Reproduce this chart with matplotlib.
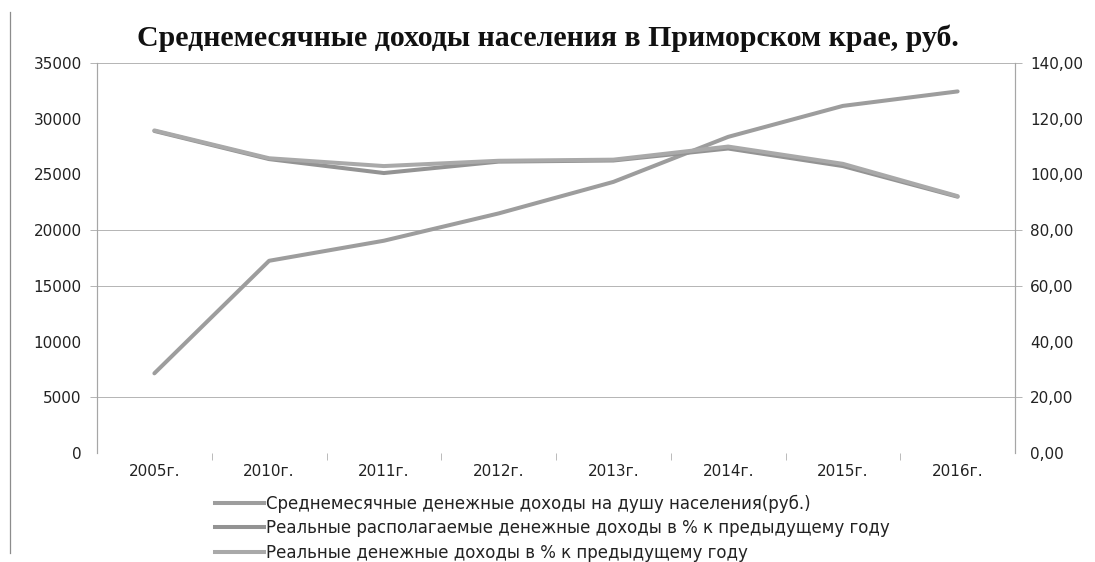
import matplotlib.pyplot as plt
from matplotlib.lines import Line2D

# --- data -------------------------------------------------------------
years = ["2005г.", "2010г.", "2011г.", "2012г.", "2013г.", "2014г.", "2015г.", "2016г."]
income = [7150, 17250, 19050, 21500, 24330, 28370, 31150, 32450]
real_disposable = [115.6, 105.5, 100.5, 104.6, 105.0, 109.3, 103.0, 92.0]
real_income = [115.8, 105.8, 103.0, 104.9, 105.3, 110.0, 103.8, 92.2]

left_ticks = [0, 5000, 10000, 15000, 20000, 25000, 30000, 35000]
right_ticks = [0, 20, 40, 60, 80, 100, 120, 140]
grid_levels = [5000, 15000, 20000, 35000]

labels = [
    "Среднемесячные денежные доходы на душу населения(руб.)",
    "Реальные располагаемые денежные доходы в % к предыдущему году",
    "Реальные денежные доходы в % к предыдущему году",
]
colors = ["#9d9d9d", "#939393", "#a9a9a9"]

# --- figure -----------------------------------------------------------
fig = plt.figure(figsize=(10.95, 5.62), dpi=100)
ax = fig.add_axes([97 / 1095, 1 - 453 / 562, (1015 - 97) / 1095, 390 / 562])
ax2 = ax.twinx()

x = range(len(years))
ax.plot(x, income, color=colors[0], lw=2.9, solid_capstyle="round", zorder=3)
ax2.plot(x, real_disposable, color=colors[1], lw=2.9, solid_capstyle="round", zorder=3)
ax2.plot(x, real_income, color=colors[2], lw=2.9, solid_capstyle="round", zorder=4)

ax.set_xlim(-0.5, len(years) - 0.5)
ax.set_ylim(0, 35000)
ax2.set_ylim(0, 140)
ax.set_yticks(left_ticks)
ax.set_yticklabels([str(v) for v in left_ticks])
ax2.set_yticks(right_ticks)
ax2.set_yticklabels([f"{v},00" for v in right_ticks])
ax.set_xticks(list(x))
ax.set_xticklabels(years)
ax.set_xticks([i + 0.5 for i in range(len(years) - 1)], minor=True)

ax.tick_params(axis="x", which="major", length=0, pad=8, labelsize=11, labelcolor="#222222")
ax.tick_params(axis="x", which="minor", length=5, color="#b0b0b0", direction="out")
ax.tick_params(axis="y", length=0, pad=11, labelsize=11, labelcolor="#222222")
ax2.tick_params(axis="y", length=0, pad=11, labelsize=11, labelcolor="#222222")

for a in (ax, ax2):
    a.spines["top"].set_visible(False)
    a.spines["bottom"].set_visible(False)
    a.spines["left"].set_color("#a6a6a6")
    a.spines["right"].set_color("#a6a6a6")
    a.patch.set_visible(False)

ax.hlines(grid_levels, -0.008, 1.008, transform=ax.get_yaxis_transform(),
          color="#b4b4b4", lw=0.7, clip_on=False, zorder=1)

fig.text(548 / 1095, 1 - 38 / 562, "Среднемесячные доходы населения в Приморском крае, руб.",
         ha="center", va="center", fontsize=21.5, fontweight="bold",
         family="Liberation Serif", color="#111111")

handles = [Line2D([], [], color=c, lw=2.9) for c in colors]
fig.legend(handles, labels, loc="upper left", bbox_to_anchor=(208 / 1095, 1 - 488 / 562),
           frameon=False, fontsize=12, handlelength=2.95, handletextpad=0.1,
           labelspacing=0.38, borderaxespad=0, labelcolor="#222222")

fig.add_artist(Line2D([10 / 1095, 10 / 1095], [1 - 12 / 562, 1 - 553 / 562],
                      color="#8c8c8c", lw=0.9))

fig.savefig("out.png", dpi=100, facecolor="white")
